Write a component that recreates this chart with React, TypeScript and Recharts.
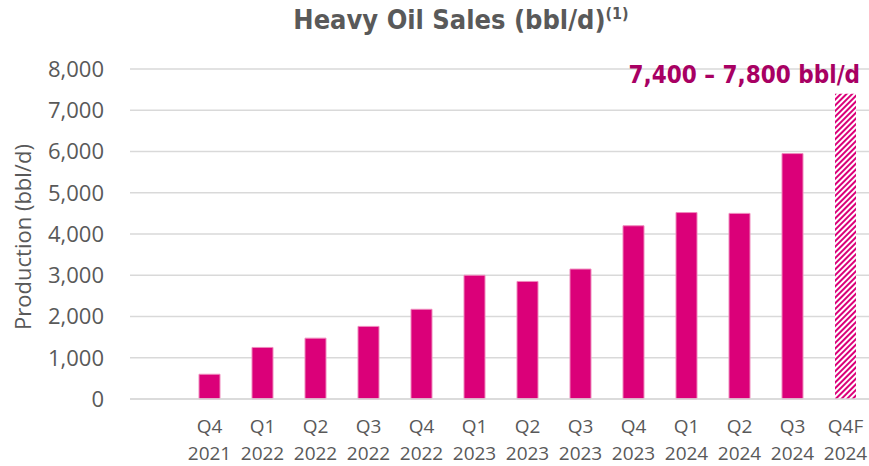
import React from 'react';
import { BarChart, Bar, XAxis, YAxis, CartesianGrid, Cell } from 'recharts';

// quarters (first slot is an empty placeholder, as in the source chart)
const quarters = ['', 'Q4', 'Q1', 'Q2', 'Q3', 'Q4', 'Q1', 'Q2', 'Q3', 'Q4', 'Q1', 'Q2', 'Q3', 'Q4F'];
const years = ['', '2021', '2022', '2022', '2022', '2022', '2023', '2023', '2023', '2023', '2024', '2024', '2024', '2024'];
const sales = [null, 600, 1250, 1475, 1760, 2175, 3000, 2850, 3150, 4200, 4520, 4500, 5950, 7400];
const forecast = [false, false, false, false, false, false, false, false, false, false, false, false, false, true];
const yTicks = [0, 1000, 2000, 3000, 4000, 5000, 6000, 7000, 8000];

const data = quarters.map((q, i) => ({
  label: `${q}|${years[i]}`,
  value: sales[i],
  forecast: forecast[i],
}));

const GRAY = '#595959';
const MAGENTA = '#DB0079';

const XTick = (props: any) => {
  const { x, payload } = props;
  const [q, y] = String(payload.value).split('|');
  return (
    <g>
      <text x={x} y={433} textAnchor="middle" fill={GRAY} fontSize={19} fontFamily="Open Sans">
        {q}
      </text>
      <text x={x} y={460} textAnchor="middle" fill={GRAY} fontSize={19} fontFamily="Open Sans">
        {y}
      </text>
    </g>
  );
};

const YTick = (props: any) => {
  const { y, payload } = props;
  return (
    <text x={104} y={y} dy="0.36em" textAnchor="end" fill={GRAY} fontSize={22} fontFamily="Open Sans">
      {payload.value.toLocaleString('en-US')}
    </text>
  );
};

export default function App() {
  return (
    <div style={{ position: 'relative', width: 869, height: 466, overflow: 'hidden', background: '#fff' }}>
      <style>{'html, body { margin: 0; padding: 0; overflow: hidden; }'}</style>
      <BarChart
        width={872}
        height={466}
        data={data}
        margin={{ top: 69, right: 0, bottom: 0, left: 0 }}
        barSize={21}
      >
        <defs>
          <pattern id="hatch" width="4" height="4" patternUnits="userSpaceOnUse" patternTransform="rotate(45)">
            <rect width="4" height="4" fill="#fff" />
            <rect width="2" height="4" fill={MAGENTA} />
          </pattern>
        </defs>
        <CartesianGrid vertical={false} stroke="#D9D9D9" strokeWidth={1.5} />
        <XAxis
          dataKey="label"
          axisLine={{ stroke: '#D9D9D9', strokeWidth: 1.5 }}
          tickLine={false}
          tick={<XTick />}
          interval={0}
          height={67}
        />
        <YAxis
          domain={[0, 8000]}
          ticks={yTicks}
          axisLine={false}
          tickLine={false}
          tick={<YTick />}
          width={130}
          interval={0}
        />
        <Bar dataKey="value" fill={MAGENTA} stroke="#EF8ABD" strokeWidth={1} isAnimationActive={false}>
          {data.map((d, i) => (
            <Cell key={i} fill={d.forecast ? 'url(#hatch)' : MAGENTA} stroke={d.forecast ? 'none' : '#EF8ABD'} />
          ))}
        </Bar>
      </BarChart>

      <div
        style={{
          position: 'absolute',
          left: 0,
          top: 4,
          width: 922,
          textAlign: 'center',
          fontFamily: 'DejaVu Sans Condensed',
          fontWeight: 'bold',
          fontSize: 27,
          color: GRAY,
          whiteSpace: 'nowrap',
        }}
      >
        Heavy Oil Sales (bbl/d)
        <sup style={{ fontSize: 16 }}>(1)</sup>
      </div>

      <div
        style={{
          position: 'absolute',
          right: 9,
          top: 61,
          fontFamily: 'DejaVu Sans Condensed',
          fontWeight: 'bold',
          fontSize: 24,
          color: '#A80063',
          whiteSpace: 'nowrap',
        }}
      >
        7,400 – 7,800 bbl/d
      </div>

      <div
        style={{
          position: 'absolute',
          left: 22,
          top: 237,
          transform: 'translate(-50%, -50%) rotate(-90deg)',
          fontFamily: 'Open Sans',
          fontSize: 22,
          color: GRAY,
          whiteSpace: 'nowrap',
        }}
      >
        Production (bbl/d)
      </div>
    </div>
  );
}
